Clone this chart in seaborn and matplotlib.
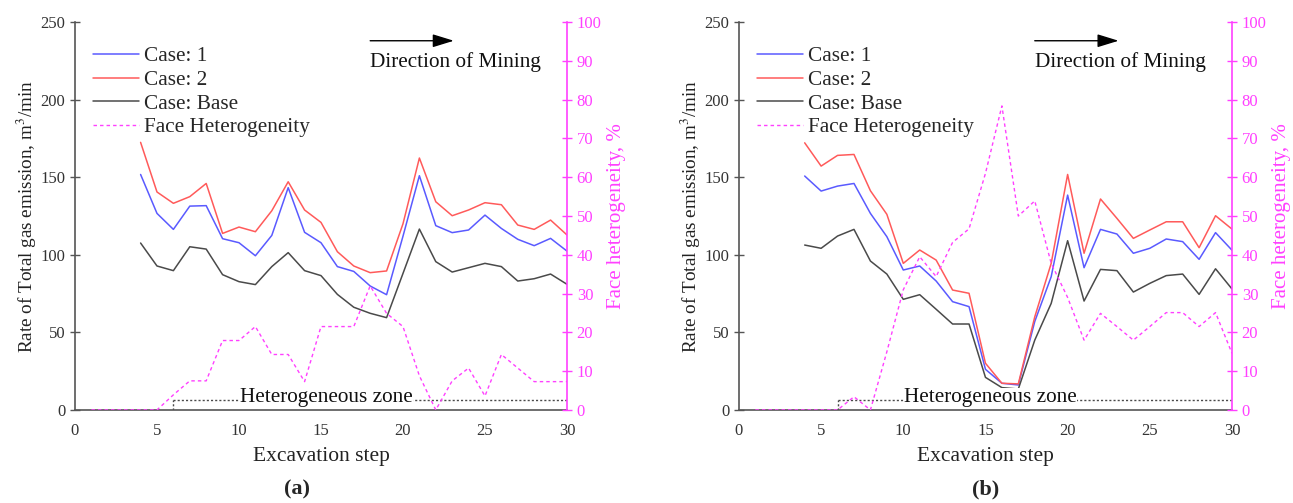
import numpy as np
import pandas as pd
import matplotlib
matplotlib.use("Agg")
import matplotlib.pyplot as plt
import seaborn as sns

# ---------------- data ----------------
steps_case = list(range(4, 31))
steps_het = list(range(1, 31))

a_case1 = [151.8, 126.7, 116.4, 131.4, 131.7, 110.4, 107.8, 99.4, 112.5, 143.3, 114.5, 107.8,
           92.4, 89.3, 79.9, 74.3, 112, 151, 118.8, 114.3, 116, 125.6, 117, 110, 105.9, 110.6, 102.4]
a_case2 = [172.5, 140.5, 133.2, 137.5, 146, 113.8, 117.9, 114.9, 128.4, 147.1, 128.9, 120.9,
           102, 92.8, 88.5, 89.6, 120, 162.4, 134.2, 125.2, 128.9, 133.6, 132.3, 119.2, 116.4, 122.4, 112.8]
a_base = [107.6, 92.8, 89.8, 105.2, 103.7, 87.2, 82.7, 80.8, 92.4, 101.4, 89.8, 86.6,
          74.5, 66.2, 62.3, 59.5, 88, 116.6, 95.6, 88.9, 91.7, 94.5, 92.4, 83.1, 84.6, 87.6, 81]
a_het = [0, 0, 0, 0, 0, 3.9, 7.5, 7.5, 17.9, 17.9, 21.5, 14.3, 14.3, 7.3, 21.5, 21.5, 21.5, 32,
         24.9, 21.5, 8.8, 0, 7.5, 10.8, 3.6, 14.3, 10.8, 7.3, 7.3, 7.3]

b_case1 = [150.8, 141.1, 144.3, 146, 126.7, 111.7, 90.2, 92.8, 83.1, 69.8, 66.6, 26.2, 17.2, 16.1,
           57, 85.9, 138.5, 91.7, 116.4, 113.4, 101, 104.2, 110.2, 108.5, 97.1, 114.3, 103]
b_case2 = [172.2, 157.2, 164.1, 164.7, 141.3, 126.1, 94.5, 103.1, 96.6, 77.3, 75.2, 30.1, 17.2, 16.8,
           60, 94.5, 151.8, 101, 136, 123.5, 110.6, 116, 121.3, 121.3, 104.6, 125.2, 116.6]
b_base = [106.3, 104.2, 112.1, 116.4, 96, 87.6, 71.3, 74.3, 64.9, 55.4, 55.4, 21, 14.4, 13.5,
          45, 68.7, 109.1, 70.2, 90.6, 89.8, 76, 81.6, 86.6, 87.6, 74.5, 91, 78]
b_het = [0, 0, 0, 0, 0, 0, 3.4, 0, 15, 31, 39.5, 34.4, 43.2, 46.7, 61, 78.4, 50, 53.9,
         37.8, 29, 18, 24.9, 21.5, 18, 21.5, 25.1, 25.1, 21.5, 25.1, 14.6]

case_labels = ["Case: 1", "Case: 2", "Case: Base"]
het_label = "Face Heterogeneity"
zone_start, zone_end, zone_level = 6, 30, 6.4
panel_labels = ["(a)", "(b)"]

# ---------------- style ----------------
sns.set_style("white")
plt.rcParams["font.family"] = ["Liberation Serif", "DejaVu Serif"]
plt.rcParams["mathtext.fontset"] = "stix"

BLUE = "#5a5aff"
RED = "#ff5a5a"
GREY = "#4a4a4a"
MAG = "#ff40ff"
AXC = "#555555"
DASH = (0, (2.5, 2.2))

fig = plt.figure(figsize=(12.93, 5.03), dpi=100)
ax_pos = [[0.058, 0.185, 0.3805, 0.771], [0.5715, 0.185, 0.3813, 0.771]]
caption_x = [0.230, 0.762]

panels = [(a_case1, a_case2, a_base, a_het), (b_case1, b_case2, b_base, b_het)]

for i, (c1, c2, cb, het) in enumerate(panels):
    ax = fig.add_axes(ax_pos[i])
    df = pd.DataFrame({
        "step": steps_case * 3,
        "rate": c1 + c2 + cb,
        "case": [case_labels[0]] * len(c1) + [case_labels[1]] * len(c2) + [case_labels[2]] * len(cb),
    })
    sns.lineplot(data=df, x="step", y="rate", hue="case",
                 palette={case_labels[0]: BLUE, case_labels[1]: RED, case_labels[2]: GREY},
                 linewidth=1.1, ax=ax, legend=False)
    ax.set_xlim(0, 30)
    ax.set_ylim(0, 250)
    ax.set_xticks(range(0, 31, 5))
    ax.set_xticks(range(0, 31, 1), minor=True)
    ax.set_yticks(range(0, 251, 50))
    ax.set_xlabel("Excavation step", fontsize=15.5, color="#222222", labelpad=6)
    ax.set_ylabel("Rate of Total gas emission, m$^3$/min", fontsize=13.8, color="#222222", labelpad=1)
    ax.tick_params(axis="both", which="major", direction="inout", length=7, width=1,
                   labelsize=12, colors=AXC, labelcolor="#333333")
    ax.tick_params(axis="x", which="major", pad=6)
    ax.tick_params(axis="x", which="minor", direction="inout", length=4, width=0.8, colors=AXC)
    for s in ["left", "bottom"]:
        ax.spines[s].set_color(AXC)
        ax.spines[s].set_linewidth(1.2)
    ax.spines["top"].set_visible(False)
    ax.spines["right"].set_visible(False)

    # heterogeneous zone
    ax.plot([zone_start, zone_end], [zone_level, zone_level], linestyle=(0, (1.5, 1.5)),
            color=GREY, linewidth=1.0, zorder=1)
    ax.plot([zone_start, zone_start], [0, zone_level], linestyle=(0, (1.5, 1.5)),
            color=GREY, linewidth=1.0, zorder=1)
    ax.text(15.3, zone_level + 1.5, "Heterogeneous zone", ha="center", va="center", fontsize=15.3,
            color="#111111", zorder=2,
            bbox=dict(facecolor="white", edgecolor="none", pad=0.3))

    # direction arrow
    ax.annotate("", xy=(23.1, 238), xytext=(18.0, 238),
                arrowprops=dict(arrowstyle="-|>,head_length=1.3,head_width=0.4",
                                color="black", lw=1.0, shrinkA=0, shrinkB=0))
    ax.text(18.0, 224, "Direction of Mining", ha="left", va="center", fontsize=15.3, color="#111111")

    # right axis
    ax2 = ax.twinx()
    ax2.set_position(ax_pos[i])
    dfh = pd.DataFrame({"step": steps_het, "het": het})
    sns.lineplot(data=dfh, x="step", y="het", color=MAG, linestyle=DASH,
                 linewidth=1.0, ax=ax2, legend=False)
    ax2.set_ylim(0, 100)
    ax2.set_xlim(0, 30)
    ax2.set_yticks(range(0, 101, 10))
    ax2.set_ylabel("Face heterogeneity, %", fontsize=15, color=MAG, labelpad=4)
    ax2.tick_params(axis="y", direction="inout", length=7, width=1, colors=MAG,
                    labelsize=12, labelcolor=MAG)
    ax2.spines["right"].set_color(MAG)
    ax2.spines["right"].set_linewidth(1.2)
    for s in ["left", "top", "bottom"]:
        ax2.spines[s].set_visible(False)

    handles = [plt.Line2D([], [], color=BLUE, lw=1.1),
               plt.Line2D([], [], color=RED, lw=1.1),
               plt.Line2D([], [], color=GREY, lw=1.1),
               plt.Line2D([], [], color=MAG, lw=1.0, linestyle=DASH)]
    ax2.legend(handles, case_labels + [het_label], loc="upper left",
               bbox_to_anchor=(0.01, 0.97), frameon=False, fontsize=15.3,
               handlelength=2.2, handletextpad=0.2, labelspacing=0.18, borderaxespad=0.2)

    fig.text(caption_x[i], 0.027, panel_labels[i], ha="center", va="center",
             fontsize=16, fontweight="bold")

fig.savefig("out.png", dpi=100, facecolor="white")
